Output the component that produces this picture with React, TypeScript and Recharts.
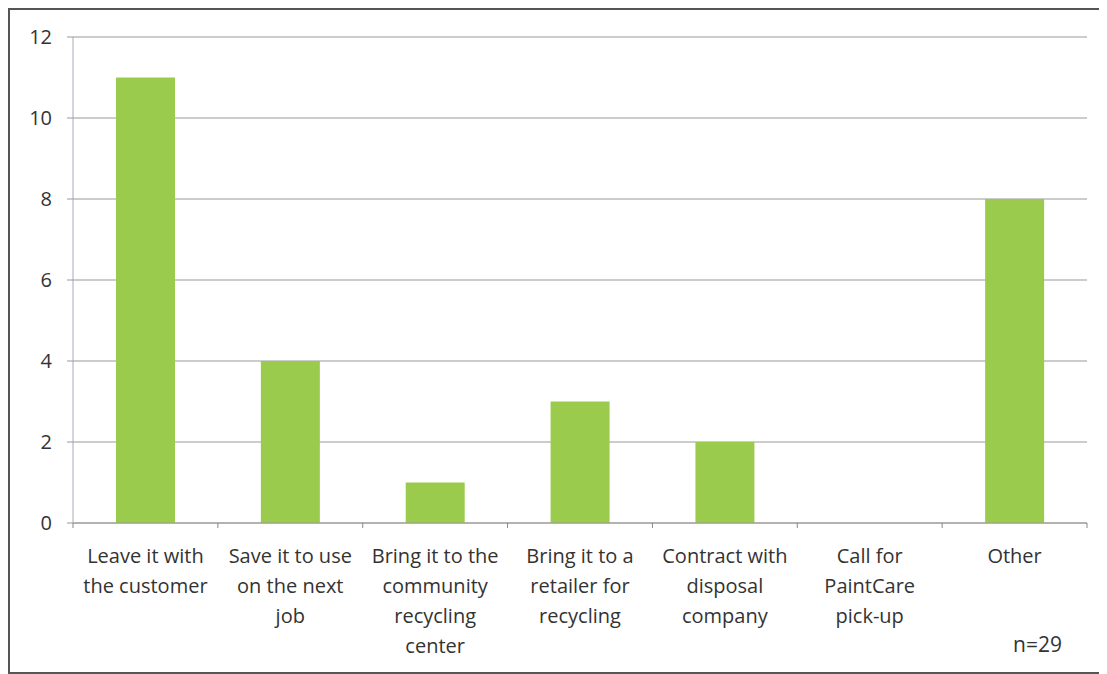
import React from "react";
import { BarChart, Bar, XAxis, YAxis, CartesianGrid } from "recharts";

const categories = [
  "Leave it with the customer",
  "Save it to use on the next job",
  "Bring it to the community recycling center",
  "Bring it to a retailer for recycling",
  "Contract with disposal company",
  "Call for PaintCare pick-up",
  "Other",
];

const labelLines = [
  ["Leave it with", "the customer"],
  ["Save it to use", "on the next", "job"],
  ["Bring it to the", "community", "recycling", "center"],
  ["Bring it to a", "retailer for", "recycling"],
  ["Contract with", "disposal", "company"],
  ["Call for", "PaintCare", "pick-up"],
  ["Other"],
];

const counts = [11, 4, 1, 3, 2, 0, 8];
const yTicks = [0, 2, 4, 6, 8, 10, 12];

const data = categories.map((name, i) => ({ name, count: counts[i] }));

const FONT = "'Open Sans', Lato, sans-serif";
const CHART_W = 1093;
const CHART_H = 662;
const MARGIN = { top: 27, right: 16, left: 0, bottom: 0 };
const Y_W = 63;
const band = (CHART_W - MARGIN.left - MARGIN.right - Y_W) / categories.length;

function CategoryTick(props: any) {
  const { x, y, index } = props;
  const lines = labelLines[index] || [];
  const last = index === categories.length - 1;
  return (
    <g>
      <line x1={x - band / 2} x2={x - band / 2} y1={y - 8} y2={y - 3} stroke="#888" />
      {last && (
        <line x1={x + band / 2} x2={x + band / 2} y1={y - 8} y2={y - 3} stroke="#888" />
      )}
      <text
        x={x}
        y={y + 32}
        textAnchor="middle"
        fill="#333"
        fontSize={20}
        fontFamily={FONT}
      >
        {lines.map((l, i) => (
          <tspan key={i} x={x} dy={i === 0 ? 0 : 30}>
            {l}
          </tspan>
        ))}
      </text>
    </g>
  );
}

export default function App() {
  return (
    <div
      style={{
        position: "relative",
        width: CHART_W,
        height: CHART_H,
        border: "2px solid #555",
        background: "#fff",
      }}
    >
      <BarChart width={CHART_W} height={CHART_H} data={data} margin={MARGIN}>
        <CartesianGrid vertical={false} stroke="#999" />
        <XAxis
          dataKey="name"
          height={149}
          interval={0}
          tickLine={false}
          axisLine={{ stroke: "#999" }}
          tick={<CategoryTick />}
        />
        <YAxis
          width={Y_W}
          domain={[0, 12]}
          ticks={yTicks}
          tickSize={6}
          tickMargin={15}
          axisLine={{ stroke: "#aab" }}
          tickLine={{ stroke: "#999" }}
          tick={{ fill: "#333", fontSize: 20, fontFamily: FONT }}
        />
        <Bar dataKey="count" fill="#9bcb4c" barSize={59} isAnimationActive={false} />
      </BarChart>
      <div
        style={{
          position: "absolute",
          left: 1003,
          top: 620,
          fontSize: 21,
          fontFamily: FONT,
          color: "#333",
        }}
      >
        n=29
      </div>
    </div>
  );
}
